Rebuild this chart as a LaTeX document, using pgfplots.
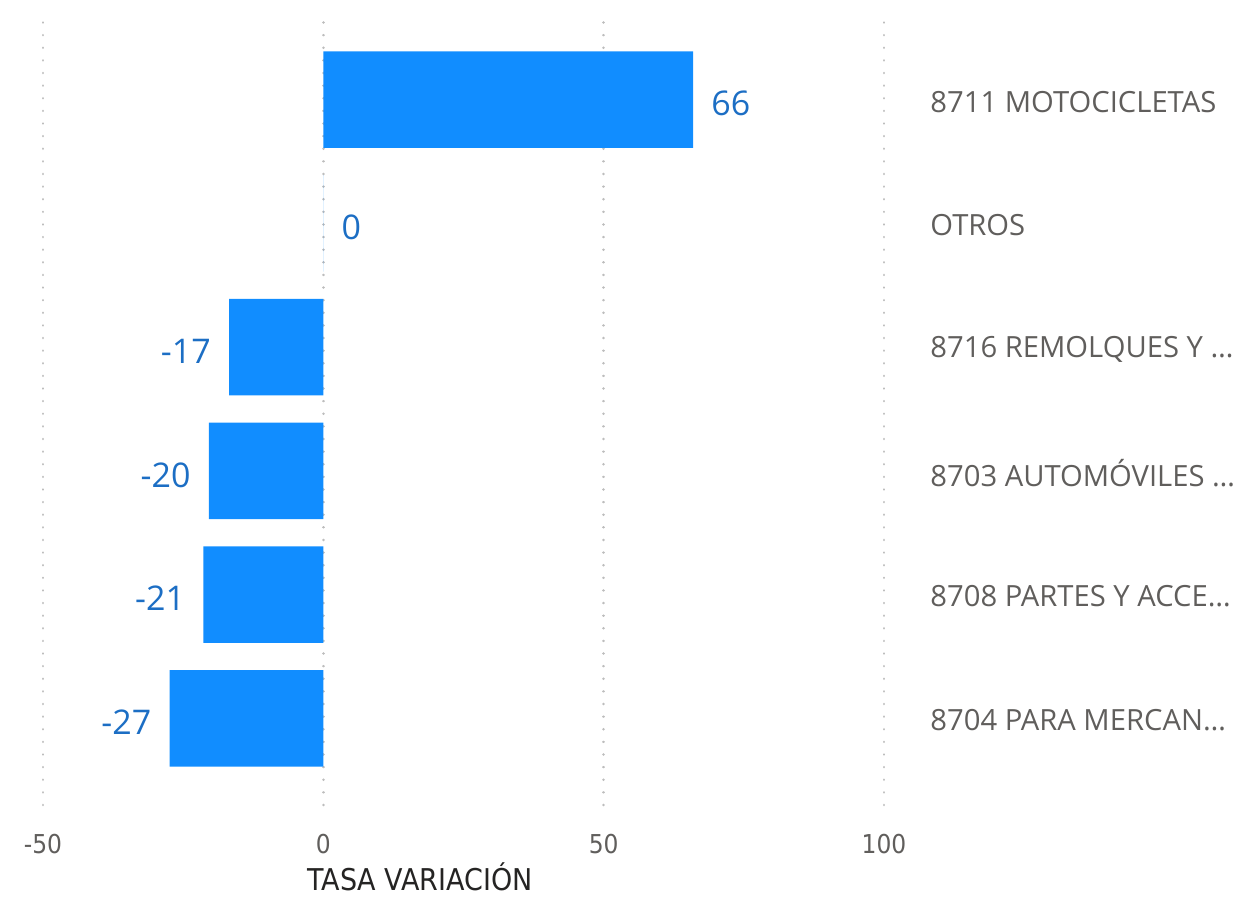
\documentclass[border=0pt]{standalone}
\usepackage{pgfplots}
\pgfplotsset{compat=1.18}
\usepackage{fontspec}
\setmainfont{Open Sans}
\newfontfamily\dinfont{DejaVu Sans Condensed}
\definecolor{barblue}{HTML}{118DFF}
\definecolor{lblblue}{HTML}{1C6EC4}
\definecolor{txtgray}{HTML}{605E5C}
\definecolor{gridgray}{HTML}{BDBDBD}
\definecolor{titlec}{HTML}{252423}
\begin{document}
\begin{tikzpicture}
\path[use as bounding box] (-21.5pt,-46pt) rectangle (608.5pt,402.5pt);
\begin{axis}[
  at={(0,0)}, anchor=south west,
  scale only axis, width=420.5pt, height=396pt,
  xmin=-50, xmax=100, ymin=-0.7, ymax=5.7,
  xbar, bar width=0.78,
  axis line style={draw=none},
  major tick length=0pt,
  xtick={-50,0,50,100},
  xmajorgrids,
  grid style={gridgray, line width=1.3pt, dash pattern=on 0.01pt off 6.3pt, line cap=round},
  ytick={0,1,2,3,4,5},
  yticklabels={{8704 PARA MERCAN…}, {8708 PARTES Y ACCE…}, {8703 AUTOMÓVILES …}, {8716 REMOLQUES Y …}, {OTROS}, {8711 MOTOCICLETAS}},
  yticklabel pos=right,
  y tick label style={anchor=west, inner sep=0pt, xshift=23pt, yshift=-1pt, font=\fontsize{14.6}{17}\selectfont, text=txtgray},
  /pgf/number format/assume math mode=true,
  x tick label style={anchor=center, inner sep=0pt, yshift=-19.5pt, font=\dinfont\fontsize{13}{15}\selectfont, text=txtgray},
  xlabel={TASA VARIACIÓN},
  xlabel style={at={(rel axis cs:0.4483,0)}, anchor=center, yshift=-36pt, inner sep=0pt, font=\dinfont\fontsize{15}{18}\selectfont, text=titlec},
  nodes near coords,
  point meta=x,
  nodes near coords style={font=\fontsize{17}{20}\selectfont, text=lblblue, inner ysep=0pt, inner xsep=9pt, yshift=-2pt, /pgf/number format/fixed, /pgf/number format/precision=0},
]
\addplot[fill=barblue, draw=none] coordinates {
  (-27.4,0) (-21.4,1) (-20.4,2) (-16.8,3) (0,4) (65.95,5)
};
\end{axis}
\end{tikzpicture}
\end{document}
